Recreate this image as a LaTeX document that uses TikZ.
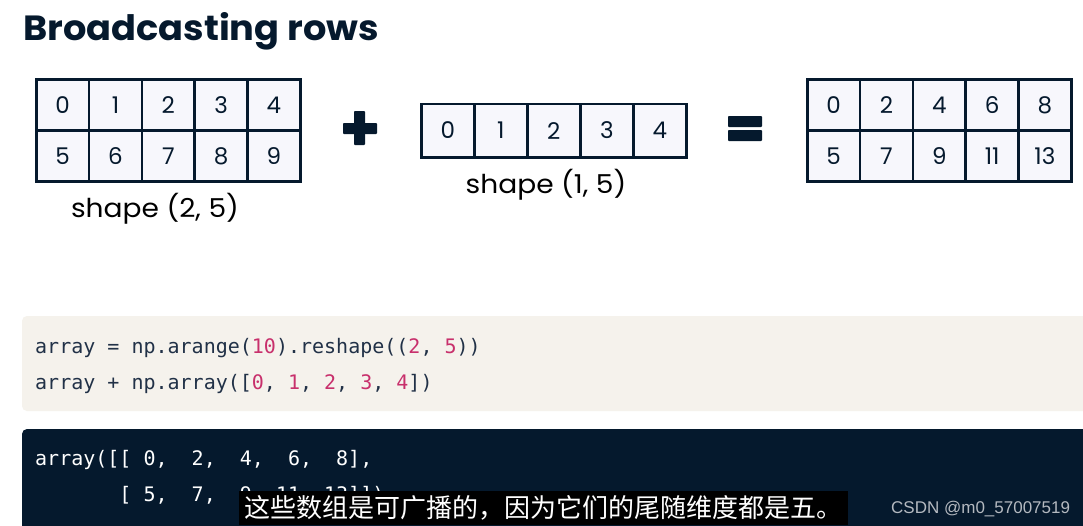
\documentclass[tikz,border=0pt]{standalone}
\usepackage{fontspec}
\setmainfont{Poppins}
\setmonofont{DejaVu Sans Mono}
\newfontfamily\cjkfont{Noto Sans CJK SC}
\newfontfamily\wmfont{Liberation Sans}
\newfontfamily\widefont[FakeStretch=1.08]{Poppins}
\newfontfamily\titlefont[FakeStretch=1.05]{Poppins}
\definecolor{navy}{HTML}{05192D}
\definecolor{cellbg}{HTML}{F7F7FC}
\definecolor{codebg}{HTML}{F5F2EC}
\definecolor{codetext}{HTML}{213147}
\definecolor{numcol}{HTML}{C8306C}
\definecolor{wmgray}{HTML}{B4B9C0}
\newcommand{\nm}[1]{\textcolor{numcol}{#1}}
\tikzset{
  cell/.style={draw=navy, line width=2.6pt, fill=cellbg, text=navy, anchor=north west,
    inner sep=0pt, font=\fontsize{23}{26}\selectfont},
  shapelabel/.style={text=black, inner sep=0pt, font=\widefont\fontsize{26}{30}\selectfont},
  codeline/.style={anchor=base west, inner sep=0pt, font=\ttfamily\fontsize{20}{24}\selectfont},
  symbolbar/.style={fill=navy, rounded corners=0.8pt},
}
\begin{document}
\begin{tikzpicture}[x=1pt,y=-1pt]
\useasboundingbox (0,0) rectangle (1083,525);
\clip (0,0) rectangle (1083,525);
\fill[white] (0,0) rectangle (1083,525);

% title
\node[anchor=base west, inner sep=0pt, text=navy, font=\titlefont\fontsize{35}{40}\selectfont\bfseries] (title) at (23,40) {Broadcasting rows};

% left array 2x5
\foreach \r/\vals in {0/{0,1,2,3,4},1/{5,6,7,8,9}} {
  \foreach \v [count=\c from 0] in \vals {
    \node[cell, minimum width=52.8pt, minimum height=51pt] (a-\r-\c) at (35+52.8*\c, 78+51*\r) {\v};
  }
}
\node[shapelabel] (la) at (155,209) {shape (2, 5)};

% plus
\fill[symbolbar] (343,123) rectangle (377,134);
\fill[symbolbar] (354,111) rectangle (365,145);

% middle array 1x5
\foreach \v [count=\c from 0] in {0,1,2,3,4} {
  \node[cell, minimum width=53pt, minimum height=53.5pt] (b-0-\c) at (420+53*\c, 102.5) {\v};
}
\node[shapelabel] (lb) at (546,185) {shape (1, 5)};

% equals
\fill[symbolbar] (728,116) rectangle (762,127);
\fill[symbolbar] (728,130) rectangle (762,141);

% right array 2x5
\foreach \r/\vals in {0/{0,2,4,6,8},1/{5,7,9,11,13}} {
  \foreach \v [count=\c from 0] in \vals {
    \node[cell, minimum width=52.8pt, minimum height=51pt] (c-\r-\c) at (806+52.8*\c, 78+51*\r) {\v};
  }
}

% code block 1
\fill[codebg, rounded corners=5pt] (22,316) rectangle (1095,411);
\node[codeline, text=codetext] (code1) at (35,353) {array~=~np.arange(\nm{10}).reshape((\nm{2},~\nm{5}))};
\node[codeline, text=codetext] (code2) at (35,389) {array~+~np.array([\nm{0},~\nm{1},~\nm{2},~\nm{3},~\nm{4}])};

% code block 2 (output)
\fill[navy, rounded corners=5pt] (22,429) rectangle (1095,540);
\node[codeline, text=white] (out1) at (35,465) {array([[~0,~~2,~~4,~~6,~~8],};
\node[codeline, text=white] (out2) at (35,501) {~~~~~~~[~5,~~7,~~9,~11,~13]])};

% subtitle overlay
\node[fill=black, text=white, inner sep=0pt, minimum width=609pt, minimum height=34pt,
  font=\cjkfont\fontsize{26}{30}\selectfont] (sub) at (543.5,508) {这些数组是可广播的，因为它们的尾随维度都是五。};

% watermark
\node[anchor=base west, inner sep=0pt, text=wmgray, font=\wmfont\fontsize{17}{20}\selectfont] (wm) at (891,513) {CSDN @m0\_57007519};
\end{tikzpicture}
\end{document}
